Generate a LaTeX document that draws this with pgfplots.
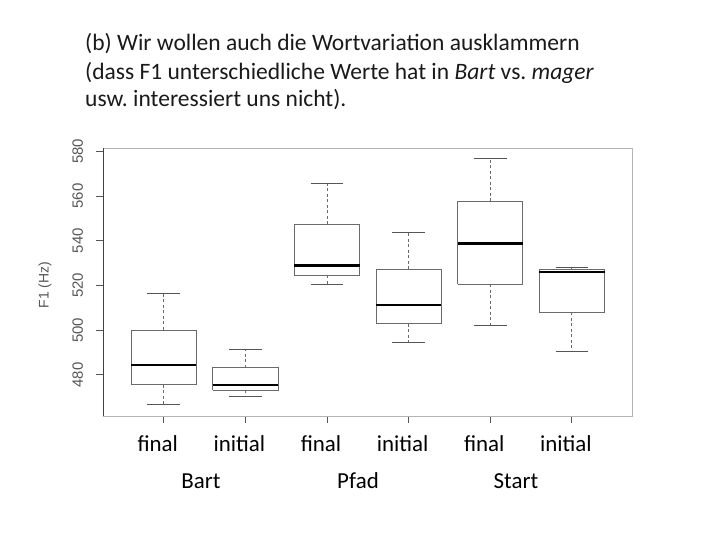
\documentclass[border=0pt]{standalone}
\usepackage{fontspec}
\setmainfont{Carlito}
\newfontfamily\arialf{Liberation Sans}
\usepackage{pgfplots}
\pgfplotsset{compat=1.18}
\definecolor{boxgray}{HTML}{6A6A6A}
\definecolor{capgray}{HTML}{555555}
\definecolor{framegray}{HTML}{B4B4B4}
\definecolor{tickgray}{HTML}{555555}
\definecolor{titlec}{HTML}{1A1A1A}
\frenchspacing
\begin{document}
\begin{tikzpicture}
\path[use as bounding box] (0bp,0bp) rectangle (720bp,540bp);
\node[anchor=base west, font=\fontsize{23.6}{28}\selectfont, text=titlec, inner sep=0pt] at (85bp,489bp) {(b) Wir wollen auch die Wortvariation ausklammern};
\node[anchor=base west, font=\fontsize{23.6}{28}\selectfont, text=titlec, inner sep=0pt] at (85bp,460.7bp) {(dass F1 unterschiedliche Werte hat in \textit{Bart} vs. \textit{mager}};
\node[anchor=base west, font=\fontsize{23.6}{28}\selectfont, text=titlec, inner sep=0pt] at (85bp,433.3bp) {usw. interessiert uns nicht).};
\begin{axis}[
  at={(103.3bp,124bp)}, anchor=south west,
  scale only axis, width=529bp, height=267.7bp,
  xmin=0.26, xmax=6.74, ymin=461.6, ymax=581.4,
  xtick={1,2,3,4,5,6},
  xticklabels={final,initial,final,initial,final,initial},
  ytick={480,500,520,540,560,580},
  tick align=outside, tick pos=left,
  major tick length=7bp,
  /pgf/number format/assume math mode=true,
  axis line style={draw=framegray, line width=0.8bp},
  every tick/.style={draw=tickgray, line width=0.8bp},
  yticklabel style={xshift=-13bp, rotate=90, anchor=south, inner sep=0pt, font=\arialf\fontsize{15}{15}\selectfont, text=tickgray},
  xticklabel style={anchor=base, inner sep=0pt, xshift=-6bp, yshift=-29bp, font=\fontsize{23}{23}\selectfont, text=black},
  ylabel={F1 (Hz)},
  every axis y label/.style={at={(axis description cs:0,0.5)}, xshift=-58.3bp, yshift=-3bp, rotate=90, anchor=center, font=\arialf\fontsize{14}{14}\selectfont, text=tickgray},
  clip=false,
  boxst/.style={draw=boxgray, line width=0.9bp, fill=white, mark=none},
  medst/.style={draw=black, line width=2.6bp, mark=none},
  whst/.style={draw=boxgray, line width=0.9bp, dash pattern=on 3bp off 2.5bp, mark=none},
  capst/.style={draw=capgray, line width=1bp, mark=none},
]
% Bart final
\addplot[whst] coordinates {(1,500.1) (1,516.2)};
\addplot[whst] coordinates {(1,475.5) (1,466.6)};
\addplot[boxst] coordinates {(0.6,475.5) (1.4,475.5) (1.4,500.1) (0.6,500.1) (0.6,475.5)};
\addplot[medst] coordinates {(0.6,484.4) (1.4,484.4)};
\addplot[capst] coordinates {(0.8,466.6) (1.2,466.6)};
\addplot[capst] coordinates {(0.8,516.2) (1.2,516.2)};
% Bart initial
\addplot[whst] coordinates {(2,483.2) (2,491.2)};
\addplot[whst] coordinates {(2,473.1) (2,470.4)};
\addplot[boxst] coordinates {(1.6,473.1) (2.4,473.1) (2.4,483.2) (1.6,483.2) (1.6,473.1)};
\addplot[medst] coordinates {(1.6,475.5) (2.4,475.5)};
\addplot[capst] coordinates {(1.8,470.4) (2.2,470.4)};
\addplot[capst] coordinates {(1.8,491.2) (2.2,491.2)};
% Pfad final
\addplot[whst] coordinates {(3,547.3) (3,565.7)};
\addplot[whst] coordinates {(3,524.5) (3,520.3)};
\addplot[boxst] coordinates {(2.6,524.5) (3.4,524.5) (3.4,547.3) (2.6,547.3) (2.6,524.5)};
\addplot[medst] coordinates {(2.6,528.9) (3.4,528.9)};
\addplot[capst] coordinates {(2.8,520.3) (3.2,520.3)};
\addplot[capst] coordinates {(2.8,565.7) (3.2,565.7)};
% Pfad initial
\addplot[whst] coordinates {(4,527.3) (4,543.9)};
\addplot[whst] coordinates {(4,502.9) (4,494.3)};
\addplot[boxst] coordinates {(3.6,502.9) (4.4,502.9) (4.4,527.3) (3.6,527.3) (3.6,502.9)};
\addplot[medst] coordinates {(3.6,511.3) (4.4,511.3)};
\addplot[capst] coordinates {(3.8,494.3) (4.2,494.3)};
\addplot[capst] coordinates {(3.8,543.9) (4.2,543.9)};
% Start final
\addplot[whst] coordinates {(5,557.7) (5,576.7)};
\addplot[whst] coordinates {(5,520.6) (5,502.2)};
\addplot[boxst] coordinates {(4.6,520.6) (5.4,520.6) (5.4,557.7) (4.6,557.7) (4.6,520.6)};
\addplot[medst] coordinates {(4.6,538.9) (5.4,538.9)};
\addplot[capst] coordinates {(4.8,502.2) (5.2,502.2)};
\addplot[capst] coordinates {(4.8,576.7) (5.2,576.7)};
% Start initial
\addplot[whst] coordinates {(6,527.0) (6,528.0)};
\addplot[whst] coordinates {(6,508.1) (6,490.3)};
\addplot[boxst] coordinates {(5.6,508.1) (6.4,508.1) (6.4,527.0) (5.6,527.0) (5.6,508.1)};
\addplot[medst] coordinates {(5.6,526.0) (6.4,526.0)};
\addplot[capst] coordinates {(5.8,490.3) (6.2,490.3)};
\addplot[capst] coordinates {(5.8,528.0) (6.2,528.0)};
% darker left axis line
\addplot[draw=black!75, line width=0.9bp, mark=none] coordinates {(0.26,461.6) (0.26,581.4)};
\end{axis}
\node[anchor=base, font=\fontsize{23}{23}\selectfont, inner sep=0pt] at (201bp,51.7bp) {Bart};
\node[anchor=base, font=\fontsize{23}{23}\selectfont, inner sep=0pt] at (358bp,51.7bp) {Pfad};
\node[anchor=base, font=\fontsize{23}{23}\selectfont, inner sep=0pt] at (516bp,51.7bp) {Start};
\end{tikzpicture}
\end{document}
